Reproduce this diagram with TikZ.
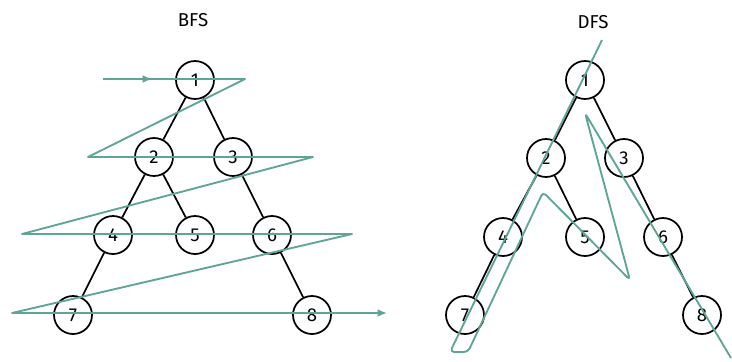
\documentclass[tikz,border=0pt]{standalone}
\usepackage{fontspec}
\setmainfont{Fira Sans}
\usetikzlibrary{arrows.meta, positioning, calc}
\definecolor{walkteal}{RGB}{95,165,150}

\begin{document}
\begin{tikzpicture}[x=0.75pt, y=-0.75pt,
    vertex/.style={circle, draw, line width=1.3pt, fill=white, minimum size=28.5pt, inner sep=0pt, font=\fontsize{14}{16}\selectfont},
    edge/.style={line width=1.3pt},
    walk/.style={walkteal, line width=1.4pt, line join=round},
    tip/.style={-{Latex[length=7pt,width=6pt]}}]
    \useasboundingbox (0,0) rectangle (732,361);

    % Titoli
    \node[font=\fontsize{14}{16}\selectfont] (bfs) at (193,20) {BFS};
    \node[font=\fontsize{14}{16}\selectfont] (dfs) at (593,22) {DFS};

    % Albero BFS
    \foreach \n/\x/\y in {1/195/80, 2/154/157, 3/233/157, 4/113/235, 5/195/235, 6/272/235, 7/73/315, 8/312/315} {
        \node[vertex] (b\n) at (\x,\y) {\n};
    }
    \foreach \a/\b in {1/2, 1/3, 2/4, 2/5, 3/6, 4/7, 6/8} {
        \draw[edge] (b\a) -- (b\b);
    }

    % Albero DFS
    \foreach \n/\x/\y in {1/585/80, 2/546/158, 3/624/158, 4/503/237, 5/585/237, 6/663/237, 7/465/315, 8/702/315} {
        \node[vertex] (d\n) at (\x,\y) {\n};
    }
    \foreach \a/\b in {1/2, 1/3, 2/4, 2/5, 3/6, 4/7, 6/8} {
        \draw[edge] (d\a) -- (d\b);
    }

    % Percorso BFS (a zig-zag)
    \coordinate (bstart) at (103,79);
    \draw[walk, tip] (bstart) -- (152,79);
    \draw[walk, tip] (bstart) -- (245,79) -- (88,157) -- (313,157) -- (22,234) -- (352,234) -- (12,313) -- (387,313);

    % Percorso DFS
    \coordinate (dstart) at (602,40);
    \draw[walk, rounded corners=3pt] (dstart) -- (450,352) -- (468,352) -- (543,192) -- (630,280) -- (585,113) -- (731,358);
\end{tikzpicture}
\end{document}
